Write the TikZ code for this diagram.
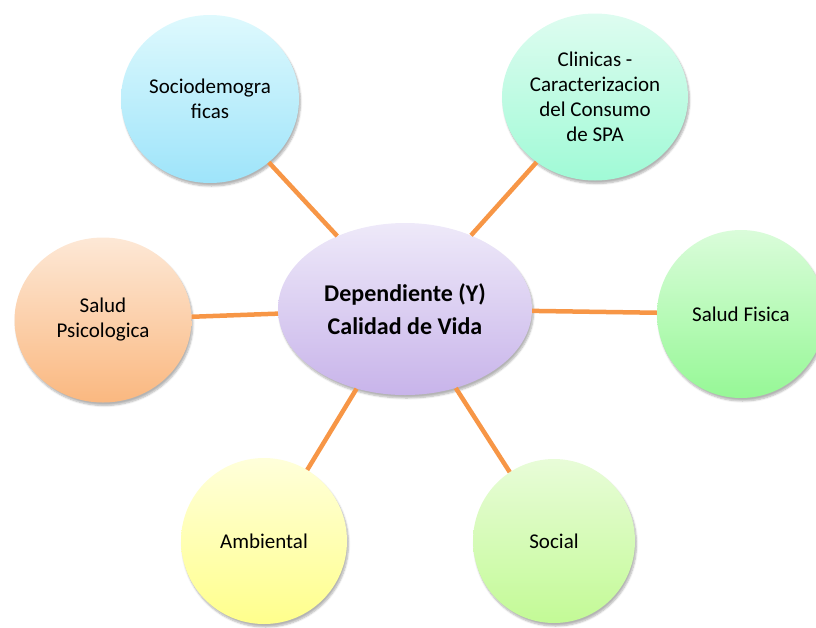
\documentclass[tikz,border=0pt]{standalone}
\usepackage{fontspec}
\setmainfont{Carlito}
\usetikzlibrary{shapes.geometric,shadows.blur}

%% colours
\definecolor{linkorange}{RGB}{247,150,70}
\definecolor{socioTop}{RGB}{222,249,253}
\definecolor{socioBot}{RGB}{158,228,250}
\definecolor{clinTop}{RGB}{222,252,240}
\definecolor{clinBot}{RGB}{160,250,214}
\definecolor{centTop}{RGB}{238,233,249}
\definecolor{centBot}{RGB}{200,180,234}
\definecolor{psicTop}{RGB}{253,232,214}
\definecolor{psicBot}{RGB}{250,184,128}
\definecolor{fisTop}{RGB}{218,252,218}
\definecolor{fisBot}{RGB}{150,248,150}
\definecolor{ambTop}{RGB}{255,255,218}
\definecolor{ambBot}{RGB}{255,255,140}
\definecolor{socTop}{RGB}{232,252,216}
\definecolor{socBot}{RGB}{195,250,150}

\tikzset{
    factor/.style={ellipse, minimum width=166pt, minimum height=166pt, inner sep=0pt, align=center,
        font=\fontsize{21}{25}\selectfont,
        blur shadow={shadow xshift=1.5pt, shadow yshift=-3pt, shadow blur steps=6, shadow opacity=30}},
    centre/.style={ellipse, minimum width=254pt, minimum height=172pt, inner sep=0pt,
        align=center, font=\fontsize{24}{33}\selectfont\bfseries,
        top color=centTop, bottom color=centBot,
        blur shadow={shadow xshift=1.5pt, shadow yshift=-3pt, shadow blur steps=6, shadow opacity=30}},
    link/.style={draw=linkorange, line width=4.5pt},
}

\begin{document}
\begin{tikzpicture}[x=1pt,y=-1pt]
    \clip (0,0) rectangle (816,627);
    %% centre
    \node[centre] (calidad) at (405,309) {Dependiente (Y)\\Calidad de Vida};
    %% factors
    \node[factor, minimum width=178pt, minimum height=168pt, top color=socioTop, bottom color=socioBot] (socio) at (210,99) {Sociodemogra\\ficas};
    \node[factor, minimum width=186pt, minimum height=167pt, top color=clinTop, bottom color=clinBot] (clinicas) at (595,97) {Clinicas -\\Caracterizacion\\del Consumo\\de SPA};
    \node[factor, minimum width=177pt, minimum height=165pt, top color=psicTop, bottom color=psicBot] (psico) at (103,320) {Salud\\Psicologica};
    \node[factor, minimum width=168pt, minimum height=168pt, top color=fisTop, bottom color=fisBot] (fisica) at (741,314) {Salud Fisica};
    \node[factor, top color=ambTop, bottom color=ambBot] (ambiental) at (264,541) {Ambiental};
    \node[factor, minimum width=162pt, minimum height=164pt, top color=socTop, bottom color=socBot] (social) at (554,541) {Social};
    %% links
    \foreach \f in {socio,clinicas,psico,fisica,ambiental,social}
        \draw[link] (calidad) -- (\f);
\end{tikzpicture}
\end{document}
